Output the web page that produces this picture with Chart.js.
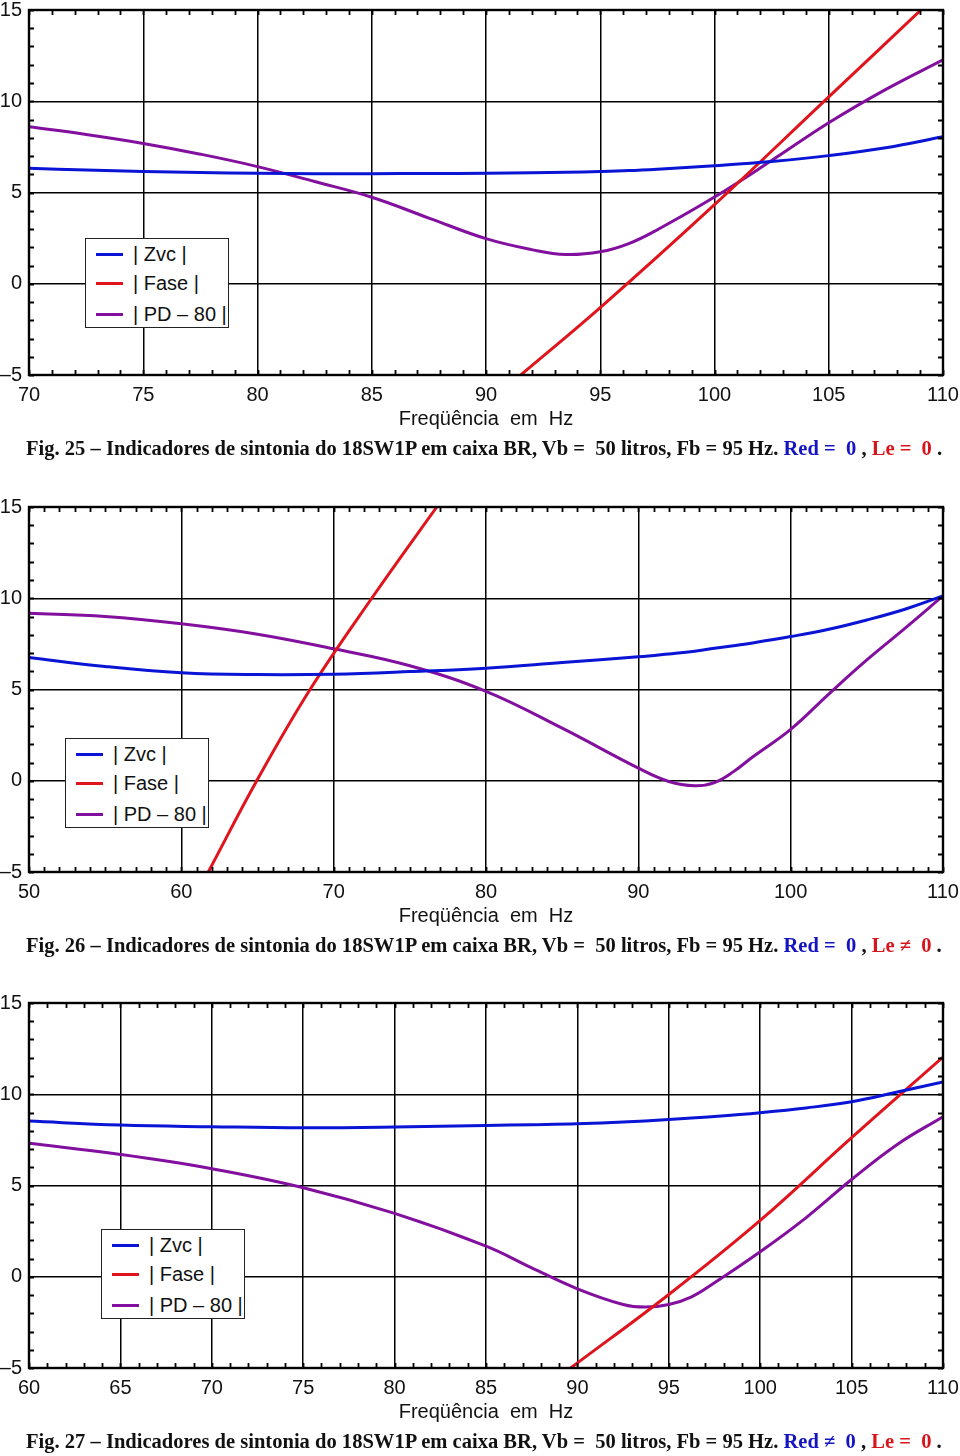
<!DOCTYPE html>
<html><head><meta charset="utf-8">
<script src="https://cdn.jsdelivr.net/npm/chart.js@4.4.1/dist/chart.umd.min.js"></script>
<style>
html,body{margin:0;padding:0;background:#fff;}
body{width:960px;height:1456px;position:relative;overflow:hidden;}
.block{position:absolute;left:0;width:960px;height:497px;}
.block canvas{position:absolute;left:0;top:0;}
.legend{position:absolute;background:#fff;border:1px solid #222;width:142px;height:88px;font-family:"Liberation Sans",Arial,sans-serif;font-size:20px;color:#111;}
.legend .row{position:absolute;left:0;height:24px;width:140px;}
.legend .sw{position:absolute;left:10px;top:11px;width:27px;height:3px;}
.legend .tx{position:absolute;left:47px;top:0;line-height:24px;white-space:pre;}
.caption{position:absolute;left:26px;top:436px;font-family:"Liberation Serif","Times New Roman",serif;font-weight:bold;font-size:20.55px;line-height:24px;white-space:pre;color:#111;}
.cb{color:#1414c0;} .cr{color:#d8141c;}
</style>
</head>
<body>
<div class="block" id="b1" style="top:0px"><canvas id="c1" width="960" height="440"></canvas>
<div class="legend" id="l1" style="left:85px;top:238px"></div>
<div class="caption">Fig. 25 – Indicadores de sintonia do 18SW1P em caixa BR, Vb =  50 litros, Fb = 95 Hz. <span class="cb">Red =  0</span> , <span class="cr">Le =  0</span> .</div>
</div>
<div class="block" id="b2" style="top:497px"><canvas id="c2" width="960" height="440"></canvas>
<div class="legend" id="l2" style="left:65px;top:241px"></div>
<div class="caption">Fig. 26 – Indicadores de sintonia do 18SW1P em caixa BR, Vb =  50 litros, Fb = 95 Hz. <span class="cb">Red =  0</span> , <span class="cr">Le ≠  0</span> .</div>
</div>
<div class="block" id="b3" style="top:993px"><canvas id="c3" width="960" height="440"></canvas>
<div class="legend" id="l3" style="left:101px;top:236px"></div>
<div class="caption">Fig. 27 – Indicadores de sintonia do 18SW1P em caixa BR, Vb =  50 litros, Fb = 95 Hz. <span class="cb">Red ≠  0</span> , <span class="cr">Le =  0</span> .</div>
</div>
<script>
// ---- Series names / colours ----
const seriesLabels = ['| Zvc |', '| Fase |', '| PD \u2013 80 |'];
const seriesColors = ['#0a14d4', '#e0141c', '#820f9e'];
const xTitle = 'Freq\u00fc\u00eancia  em  Hz';
const yTicks = [-5, 0, 5, 10, 15];

// ---- Fig. 25 ----
const xTicks1 = [70, 75, 80, 85, 90, 95, 100, 105, 110];
const freq1 = [70, 72.5, 75, 77.5, 80, 82.5, 85, 87.5, 90, 92, 93.5, 95, 96.25, 97.5, 100, 102.5, 105, 107.5, 110];
const zvc1  = [6.33, 6.23, 6.15, 6.09, 6.05, 6.03, 6.03, 6.04, 6.05, 6.08, 6.11, 6.15, 6.2, 6.28, 6.47, 6.7, 7.02, 7.45, 8.05];
const pd1   = [8.6, 8.18, 7.69, 7.1, 6.42, 5.6, 4.74, 3.6, 2.47, 1.87, 1.6, 1.75, 2.2, 2.96, 4.75, 6.75, 8.82, 10.65, 12.27];
const faseFreq1 = [91.52, 95, 100, 105, 109, 110];
const fase1     = [-5, -1.31, 4.33, 10.24, 14.96, 16.14];

// ---- Fig. 26 ----
const xTicks2 = [50, 60, 70, 80, 90, 100, 110];
const freq2 = [50, 55, 60, 65, 70, 75, 80, 85, 90, 92, 93.7, 95, 96.25, 97.5, 100, 102.5, 105, 107.5, 110];
const zvc2  = [6.75, 6.26, 5.92, 5.82, 5.84, 5.98, 6.17, 6.48, 6.79, 6.95, 7.1, 7.26, 7.4, 7.55, 7.9, 8.3, 8.81, 9.4, 10.13];
const pd2   = [9.18, 9.0, 8.6, 8.03, 7.23, 6.3, 4.9, 2.88, 0.69, -0.04, -0.27, -0.1, 0.5, 1.3, 2.82, 4.75, 6.62, 8.35, 10.13];
const faseFreq2 = [61.77, 64.95, 68.45, 72.5, 76.77, 78];
const fase2     = [-5, 0, 5, 10, 15, 16.4];

// ---- Fig. 27 ----
const xTicks3 = [60, 65, 70, 75, 80, 85, 90, 95, 100, 105, 110];
const freq3 = [60, 65, 70, 75, 80, 85, 87.5, 90, 92.5, 93.7, 95, 96.25, 97.5, 100, 102.5, 105, 107.5, 110];
const zvc3  = [8.53, 8.31, 8.22, 8.16, 8.2, 8.29, 8.33, 8.38, 8.48, 8.54, 8.62, 8.7, 8.78, 8.99, 9.25, 9.59, 10.12, 10.67];
const pd3   = [7.31, 6.7, 5.92, 4.88, 3.47, 1.68, 0.49, -0.66, -1.52, -1.66, -1.52, -1.1, -0.33, 1.37, 3.23, 5.33, 7.25, 8.77];
const faseFreq3 = [89.63, 95, 100, 105, 110];
const fase3     = [-5, -0.97, 3.09, 7.62, 12.04];

const pts = (xs, ys) => xs.map((x, i) => ({x, y: ys[i]}));

const framePlugin = {
  id: 'frame',
  afterDatasetsDraw(chart) {
    const {ctx, chartArea: a, scales: {x, y}} = chart;
    ctx.save();
    ctx.strokeStyle = '#000';
    ctx.lineWidth = 1.8;
    ctx.beginPath();
    for (let v = Math.ceil(x.min); v <= x.max; v += 1) {
      const p = Math.round(x.getPixelForValue(v)) + 0.5;
      ctx.moveTo(p, a.top); ctx.lineTo(p, a.top + 5);
      ctx.moveTo(p, a.bottom); ctx.lineTo(p, a.bottom - 5);
    }
    for (let v = Math.ceil(y.min); v <= y.max; v += 1) {
      const p = Math.round(y.getPixelForValue(v)) + 0.5;
      ctx.moveTo(a.left, p); ctx.lineTo(a.left + 5, p);
      ctx.moveTo(a.right, p); ctx.lineTo(a.right - 5, p);
    }
    ctx.stroke();
    ctx.lineWidth = 2.4;
    ctx.strokeRect(a.left, a.top, a.right - a.left, a.bottom - a.top);
    ctx.restore();
  }
};

function makeChart(id, legendId, xTicks, series) {
  const datasets = series.map((s, i) => ({
    label: seriesLabels[i],
    data: pts(s[0], s[1]),
    borderColor: seriesColors[i],
    backgroundColor: seriesColors[i],
    borderWidth: 3,
    pointRadius: 0,
    fill: false,
    tension: 0.4,
    clip: 0
  }));
  const fmt = v => v < 0 ? '\u2013' + Math.abs(v) : String(v);
  const chart = new Chart(document.getElementById(id), {
    type: 'line',
    data: {datasets},
    options: {
      responsive: false,
      animation: false,
      events: [],
      layout: {padding: {top: 10, right: 17, left: 0, bottom: 0}, autoPadding: false},
      plugins: {legend: {display: false}, tooltip: {enabled: false}},
      scales: {
        x: {
          type: 'linear', min: xTicks[0], max: xTicks[xTicks.length - 1],
          afterBuildTicks: sc => { sc.ticks = xTicks.map(v => ({value: v})); },
          afterFit: sc => { sc.height = 65; sc.paddingLeft = 0; sc.paddingRight = 0; sc.paddingTop = 0; sc.paddingBottom = 0; },
          grid: {color: '#000', lineWidth: 1.5, drawTicks: false},
          border: {display: false},
          ticks: {autoSkip: false, maxRotation: 0, padding: 8, color: '#111',
                  font: {family: '"Liberation Sans", Arial, sans-serif', size: 20},
                  callback: fmt},
          title: {display: true, text: xTitle, color: '#111', padding: {top: 0, bottom: 9},
                  font: {family: '"Liberation Sans", Arial, sans-serif', size: 20}}
        },
        y: {
          type: 'linear', min: yTicks[0], max: yTicks[yTicks.length - 1],
          afterBuildTicks: sc => { sc.ticks = yTicks.map(v => ({value: v})); },
          afterFit: sc => { sc.width = 29; sc.paddingLeft = 0; sc.paddingRight = 0; sc.paddingTop = 0; sc.paddingBottom = 0; },
          grid: {color: '#000', lineWidth: 1.5, drawTicks: false},
          border: {display: false},
          ticks: {autoSkip: false, padding: 7, color: '#111',
                  font: {family: '"Liberation Sans", Arial, sans-serif', size: 20},
                  callback: fmt}
        }
      }
    },
    plugins: [framePlugin]
  });
  // HTML legend built from the chart's datasets
  const lg = document.getElementById(legendId);
  const tops = [3, 32, 63];
  chart.data.datasets.forEach((d, i) => {
    const row = document.createElement('div');
    row.className = 'row';
    row.style.top = tops[i] + 'px';
    const sw = document.createElement('div');
    sw.className = 'sw';
    sw.style.background = d.borderColor;
    const tx = document.createElement('div');
    tx.className = 'tx';
    tx.textContent = d.label;
    row.appendChild(sw); row.appendChild(tx);
    lg.appendChild(row);
  });
  return chart;
}

makeChart('c1', 'l1', xTicks1, [[freq1, zvc1], [faseFreq1, fase1], [freq1, pd1]]);
makeChart('c2', 'l2', xTicks2, [[freq2, zvc2], [faseFreq2, fase2], [freq2, pd2]]);
makeChart('c3', 'l3', xTicks3, [[freq3, zvc3], [faseFreq3, fase3], [freq3, pd3]]);
</script>
</body></html>
